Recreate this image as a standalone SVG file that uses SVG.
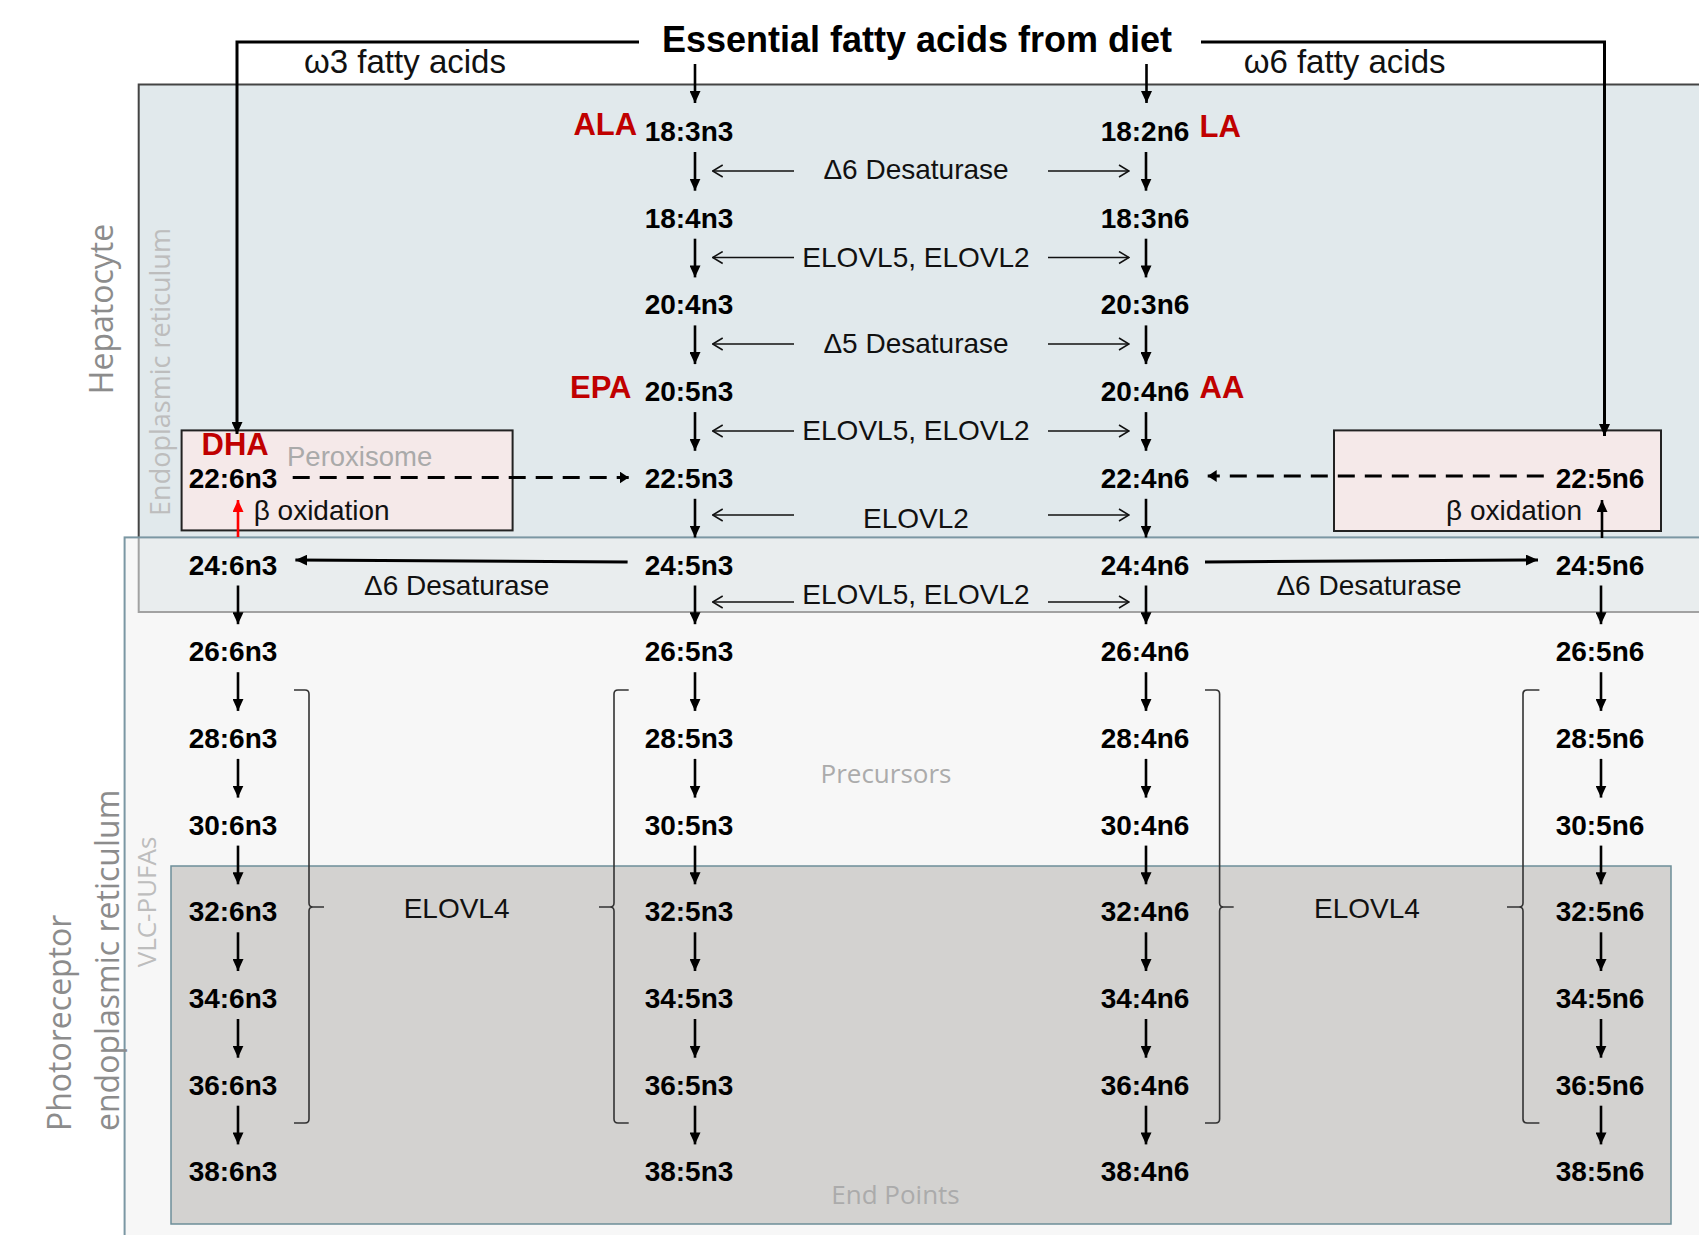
<svg xmlns="http://www.w3.org/2000/svg" width="1699" height="1235" viewBox="0 0 1699 1235">
<defs>
<style>
.node{font-family:"Liberation Sans",Arial,sans-serif;font-weight:bold;font-size:28px;fill:#000;text-anchor:middle}
.enz{font-family:"Liberation Sans",Arial,sans-serif;font-size:28px;fill:#111;text-anchor:middle}
.red{font-family:"Liberation Sans",Arial,sans-serif;font-weight:bold;font-size:31px;fill:#C00000}
.region{font-family:"Open Sans","Liberation Sans",sans-serif;font-size:32px;fill:#8C8C8C}
.light{font-family:"Open Sans","Liberation Sans",sans-serif;font-size:27px;fill:#BDBDBD}
.soft{font-family:"Open Sans","Liberation Sans",sans-serif;font-size:26px;fill:#ABABAB;text-anchor:middle}
.thick{stroke:#000;stroke-width:2.6;fill:none;marker-end:url(#ah)}
.thin{stroke:#111;stroke-width:1.5;fill:none;marker-end:url(#oh)}
.conn{stroke:#000;stroke-width:3;fill:none}
.dash{stroke:#000;stroke-width:3;fill:none;stroke-dasharray:17 10;marker-end:url(#sh)}
.brk{stroke:#333;stroke-width:1.6;fill:none}
</style>
<marker id="ah" viewBox="0 0 12 11" refX="12" refY="5.5" markerWidth="12" markerHeight="11" markerUnits="userSpaceOnUse" orient="auto"><path d="M0,0 L12,5.5 L0,11 z" fill="#000"/></marker>
<marker id="rh" viewBox="0 0 12 11" refX="12" refY="5.5" markerWidth="12" markerHeight="11" markerUnits="userSpaceOnUse" orient="auto"><path d="M0,0 L12,5.5 L0,11 z" fill="#FF0000"/></marker>
<marker id="sh" viewBox="0 0 9 12" refX="9" refY="6" markerWidth="9" markerHeight="12" markerUnits="userSpaceOnUse" orient="auto"><path d="M0,0 L9,6 L0,12 z" fill="#000"/></marker>
<marker id="oh" viewBox="0 0 12 14" refX="11" refY="7" markerWidth="12" markerHeight="14" markerUnits="userSpaceOnUse" orient="auto"><path d="M1,1 L11,7 L1,13" fill="none" stroke="#111" stroke-width="1.5"/></marker>
</defs>
<rect x="0" y="0" width="1699" height="1235" fill="#FFFFFF"/>

<!-- regions -->
<g id="hepatocyte-er">
<rect x="138.7" y="84.5" width="1580" height="527.5" fill="#E1E9EC" stroke="#444" stroke-width="2"/>
</g>
<g id="photoreceptor-er">
<rect x="124.6" y="537.4" width="1600" height="720" fill="#F0F1F1" fill-opacity="0.55" stroke="#7B97A3" stroke-width="2"/>
</g>
<g id="end-points">
<rect x="171" y="866" width="1500" height="358" fill="#D3D2D0" stroke="#6D8E99" stroke-width="1.5"/>
</g>
<g id="peroxisome-left">
<rect x="181.6" y="430.4" width="331" height="100" fill="#F5E9E9" stroke="#222" stroke-width="2"/>
</g>
<g id="peroxisome-right">
<rect x="1334" y="430.4" width="327" height="100.6" fill="#F5E9E9" stroke="#222" stroke-width="2"/>
</g>

<!-- connectors -->
<g id="connectors">
<path class="conn" d="M639,42 L237,42 L237,434" marker-end="url(#ah)"/>
<path class="conn" d="M1201,42 L1604.5,42 L1604.5,436" marker-end="url(#ah)"/>
<line class="thick" x1="695" y1="64" x2="695" y2="103"/>
<line class="thick" x1="1146.5" y1="64" x2="1146.5" y2="103"/>

<!-- col2 arrows -->
<line class="thick" x1="695" y1="152" x2="695" y2="190.7"/>
<line class="thick" x1="695" y1="238.7" x2="695" y2="277.4"/>
<line class="thick" x1="695" y1="325.4" x2="695" y2="364.1"/>
<line class="thick" x1="695" y1="412.1" x2="695" y2="450.8"/>
<line class="thick" x1="695" y1="498.8" x2="695" y2="537.5"/>
<line class="thick" x1="695" y1="585.5" x2="695" y2="624.2"/>
<line class="thick" x1="695" y1="672.2" x2="695" y2="710.9"/>
<line class="thick" x1="695" y1="758.9" x2="695" y2="797.6"/>
<line class="thick" x1="695" y1="845.6" x2="695" y2="884.3"/>
<line class="thick" x1="695" y1="932.3" x2="695" y2="971"/>
<line class="thick" x1="695" y1="1019" x2="695" y2="1057.7"/>
<line class="thick" x1="695" y1="1105.7" x2="695" y2="1144.4"/>
<!-- col3 arrows -->
<line class="thick" x1="1146" y1="152" x2="1146" y2="190.7"/>
<line class="thick" x1="1146" y1="238.7" x2="1146" y2="277.4"/>
<line class="thick" x1="1146" y1="325.4" x2="1146" y2="364.1"/>
<line class="thick" x1="1146" y1="412.1" x2="1146" y2="450.8"/>
<line class="thick" x1="1146" y1="498.8" x2="1146" y2="537.5"/>
<line class="thick" x1="1146" y1="585.5" x2="1146" y2="624.2"/>
<line class="thick" x1="1146" y1="672.2" x2="1146" y2="710.9"/>
<line class="thick" x1="1146" y1="758.9" x2="1146" y2="797.6"/>
<line class="thick" x1="1146" y1="845.6" x2="1146" y2="884.3"/>
<line class="thick" x1="1146" y1="932.3" x2="1146" y2="971"/>
<line class="thick" x1="1146" y1="1019" x2="1146" y2="1057.7"/>
<line class="thick" x1="1146" y1="1105.7" x2="1146" y2="1144.4"/>
<!-- col1 arrows -->
<line class="thick" x1="238" y1="585.5" x2="238" y2="624.2"/>
<line class="thick" x1="238" y1="672.2" x2="238" y2="710.9"/>
<line class="thick" x1="238" y1="758.9" x2="238" y2="797.6"/>
<line class="thick" x1="238" y1="845.6" x2="238" y2="884.3"/>
<line class="thick" x1="238" y1="932.3" x2="238" y2="971"/>
<line class="thick" x1="238" y1="1019" x2="238" y2="1057.7"/>
<line class="thick" x1="238" y1="1105.7" x2="238" y2="1144.4"/>
<!-- col4 arrows -->
<line class="thick" x1="1601" y1="585.5" x2="1601" y2="624.2"/>
<line class="thick" x1="1601" y1="672.2" x2="1601" y2="710.9"/>
<line class="thick" x1="1601" y1="758.9" x2="1601" y2="797.6"/>
<line class="thick" x1="1601" y1="845.6" x2="1601" y2="884.3"/>
<line class="thick" x1="1601" y1="932.3" x2="1601" y2="971"/>
<line class="thick" x1="1601" y1="1019" x2="1601" y2="1057.7"/>
<line class="thick" x1="1601" y1="1105.7" x2="1601" y2="1144.4"/>

<!-- enzyme side arrows -->
<line class="thin" x1="794" y1="171" x2="712.7" y2="171"/>
<line class="thin" x1="1048" y1="171" x2="1129" y2="171"/>
<line class="thin" x1="794" y1="257.5" x2="712.7" y2="257.5"/>
<line class="thin" x1="1048" y1="257.5" x2="1129" y2="257.5"/>
<line class="thin" x1="794" y1="344" x2="712.7" y2="344"/>
<line class="thin" x1="1048" y1="344" x2="1129" y2="344"/>
<line class="thin" x1="794" y1="431" x2="712.7" y2="431"/>
<line class="thin" x1="1048" y1="431" x2="1129" y2="431"/>
<line class="thin" x1="794" y1="515" x2="712.7" y2="515"/>
<line class="thin" x1="1048" y1="515" x2="1129" y2="515"/>
<line class="thin" x1="794" y1="602" x2="712.7" y2="602"/>
<line class="thin" x1="1048" y1="602" x2="1129" y2="602"/>

<!-- delta6 desaturase horizontal -->
<line class="conn" x1="627.6" y1="562" x2="295.4" y2="560" marker-end="url(#ah)"/>
<line class="conn" x1="1205" y1="562" x2="1538" y2="560" marker-end="url(#ah)"/>

<!-- dashed retroconversion -->
<line class="dash" x1="292.7" y1="477.5" x2="628.7" y2="477.5"/>
<line class="dash" x1="1543.8" y1="476" x2="1207.7" y2="476"/>

<!-- beta oxidation arrows -->
<line x1="238" y1="537" x2="238" y2="500" stroke="#FF0000" stroke-width="2.6" marker-end="url(#rh)"/>
<line class="thick" x1="1602" y1="538" x2="1602" y2="500"/>

<!-- ELOVL4 brackets -->
<path class="brk" d="M294,690 L305,690 Q309,690 309,694 L309,903 Q309,907 313,907 L324,907 M313,907 Q309,907 309,911 L309,1119 Q309,1123 305,1123 L294,1123"/>
<path class="brk" d="M628.7,690 L618,690 Q614,690 614,694 L614,903 Q614,907 610,907 L599,907 M610,907 Q614,907 614,911 L614,1119 Q614,1123 618,1123 L628.7,1123"/>
<path class="brk" d="M1205,690 L1215.6,690 Q1219.6,690 1219.6,694 L1219.6,903 Q1219.6,907 1223.6,907 L1233.7,907 M1223.6,907 Q1219.6,907 1219.6,911 L1219.6,1119 Q1219.6,1123 1215.6,1123 L1205,1123"/>
<path class="brk" d="M1539.4,690 L1527,690 Q1523,690 1523,694 L1523,903 Q1523,907 1519,907 L1507,907 M1519,907 Q1523,907 1523,911 L1523,1119 Q1523,1123 1527,1123 L1539.4,1123"/>
</g>

<!-- region labels -->
<g id="labels">
<text class="region" transform="translate(113,309) rotate(-90)" text-anchor="middle">Hepatocyte</text>
<text class="light" transform="translate(170,372) rotate(-90)" text-anchor="middle">Endoplasmic reticulum</text>
<text class="region" transform="translate(71,1131) rotate(-90)">Photoreceptor</text>
<text class="region" transform="translate(119,1131) rotate(-90)">endoplasmic reticulum</text>
<text class="light" transform="translate(156,902) rotate(-90)" text-anchor="middle" style="font-size:26px">VLC-PUFAs</text>
<text class="soft" x="886" y="783">Precursors</text>
<text class="soft" x="895.5" y="1204">End Points</text>
<text x="287" y="466" style="font-family:'Liberation Sans',Arial,sans-serif;font-size:27.5px;fill:#AAAAAA">Peroxisome</text>
<text x="917" y="52" style="font-family:'Liberation Sans',Arial,sans-serif;font-weight:bold;font-size:36px;fill:#000" text-anchor="middle">Essential fatty acids from diet</text>
<text x="405" y="73" style="font-family:'Liberation Sans',Arial,sans-serif;font-size:33px;fill:#111" text-anchor="middle">ω3 fatty acids</text>
<text x="1344.6" y="73" style="font-family:'Liberation Sans',Arial,sans-serif;font-size:33px;fill:#111" text-anchor="middle">ω6 fatty acids</text>
</g>

<!-- enzyme labels -->
<g id="enzymes">
<text class="enz" x="916" y="179">Δ6 Desaturase</text>
<text class="enz" x="916" y="266.5">ELOVL5, ELOVL2</text>
<text class="enz" x="916" y="352.5">Δ5 Desaturase</text>
<text class="enz" x="916" y="440">ELOVL5, ELOVL2</text>
<text class="enz" x="916" y="528">ELOVL2</text>
<text class="enz" x="916" y="604">ELOVL5, ELOVL2</text>
<text class="enz" x="456.6" y="595">Δ6 Desaturase</text>
<text class="enz" x="1369" y="595">Δ6 Desaturase</text>
<text class="enz" x="456.6" y="918">ELOVL4</text>
<text class="enz" x="1367" y="918">ELOVL4</text>
<text class="enz" x="253.7" y="520" text-anchor="start" style="text-anchor:start">β oxidation</text>
<text class="enz" x="1446" y="520" style="text-anchor:start">β oxidation</text>
</g>

<!-- acid names -->
<g id="names">
<text class="red" x="573.4" y="135">ALA</text>
<text class="red" x="570" y="397.5">EPA</text>
<text class="red" x="1199.6" y="137">LA</text>
<text class="red" x="1199.6" y="398">AA</text>
<text class="red" x="201.6" y="455">DHA</text>
</g>

<!-- nodes n3 central column -->
<g id="n-18-3n3"><text class="node" x="689" y="141">18:3n3</text></g>
<g id="n-18-4n3"><text class="node" x="689" y="227.7">18:4n3</text></g>
<g id="n-20-4n3"><text class="node" x="689" y="314.4">20:4n3</text></g>
<g id="n-20-5n3"><text class="node" x="689" y="401.1">20:5n3</text></g>
<g id="n-22-5n3"><text class="node" x="689" y="487.8">22:5n3</text></g>
<g id="n-24-5n3"><text class="node" x="689" y="574.5">24:5n3</text></g>
<g id="n-26-5n3"><text class="node" x="689" y="661.2">26:5n3</text></g>
<g id="n-28-5n3"><text class="node" x="689" y="747.9">28:5n3</text></g>
<g id="n-30-5n3"><text class="node" x="689" y="834.6">30:5n3</text></g>
<g id="n-32-5n3"><text class="node" x="689" y="921.3">32:5n3</text></g>
<g id="n-34-5n3"><text class="node" x="689" y="1008">34:5n3</text></g>
<g id="n-36-5n3"><text class="node" x="689" y="1094.7">36:5n3</text></g>
<g id="n-38-5n3"><text class="node" x="689" y="1181.4">38:5n3</text></g>

<!-- n6 central column -->
<g id="n-18-2n6"><text class="node" x="1145" y="141">18:2n6</text></g>
<g id="n-18-3n6"><text class="node" x="1145" y="227.7">18:3n6</text></g>
<g id="n-20-3n6"><text class="node" x="1145" y="314.4">20:3n6</text></g>
<g id="n-20-4n6"><text class="node" x="1145" y="401.1">20:4n6</text></g>
<g id="n-22-4n6"><text class="node" x="1145" y="487.8">22:4n6</text></g>
<g id="n-24-4n6"><text class="node" x="1145" y="574.5">24:4n6</text></g>
<g id="n-26-4n6"><text class="node" x="1145" y="661.2">26:4n6</text></g>
<g id="n-28-4n6"><text class="node" x="1145" y="747.9">28:4n6</text></g>
<g id="n-30-4n6"><text class="node" x="1145" y="834.6">30:4n6</text></g>
<g id="n-32-4n6"><text class="node" x="1145" y="921.3">32:4n6</text></g>
<g id="n-34-4n6"><text class="node" x="1145" y="1008">34:4n6</text></g>
<g id="n-36-4n6"><text class="node" x="1145" y="1094.7">36:4n6</text></g>
<g id="n-38-4n6"><text class="node" x="1145" y="1181.4">38:4n6</text></g>

<!-- n3 left column -->
<g id="n-22-6n3"><text class="node" x="233" y="487.8">22:6n3</text></g>
<g id="n-24-6n3"><text class="node" x="233" y="574.5">24:6n3</text></g>
<g id="n-26-6n3"><text class="node" x="233" y="661.2">26:6n3</text></g>
<g id="n-28-6n3"><text class="node" x="233" y="747.9">28:6n3</text></g>
<g id="n-30-6n3"><text class="node" x="233" y="834.6">30:6n3</text></g>
<g id="n-32-6n3"><text class="node" x="233" y="921.3">32:6n3</text></g>
<g id="n-34-6n3"><text class="node" x="233" y="1008">34:6n3</text></g>
<g id="n-36-6n3"><text class="node" x="233" y="1094.7">36:6n3</text></g>
<g id="n-38-6n3"><text class="node" x="233" y="1181.4">38:6n3</text></g>

<!-- n6 right column -->
<g id="n-22-5n6"><text class="node" x="1600" y="487.8">22:5n6</text></g>
<g id="n-24-5n6"><text class="node" x="1600" y="574.5">24:5n6</text></g>
<g id="n-26-5n6"><text class="node" x="1600" y="661.2">26:5n6</text></g>
<g id="n-28-5n6"><text class="node" x="1600" y="747.9">28:5n6</text></g>
<g id="n-30-5n6"><text class="node" x="1600" y="834.6">30:5n6</text></g>
<g id="n-32-5n6"><text class="node" x="1600" y="921.3">32:5n6</text></g>
<g id="n-34-5n6"><text class="node" x="1600" y="1008">34:5n6</text></g>
<g id="n-36-5n6"><text class="node" x="1600" y="1094.7">36:5n6</text></g>
<g id="n-38-5n6"><text class="node" x="1600" y="1181.4">38:5n6</text></g>
</svg>
